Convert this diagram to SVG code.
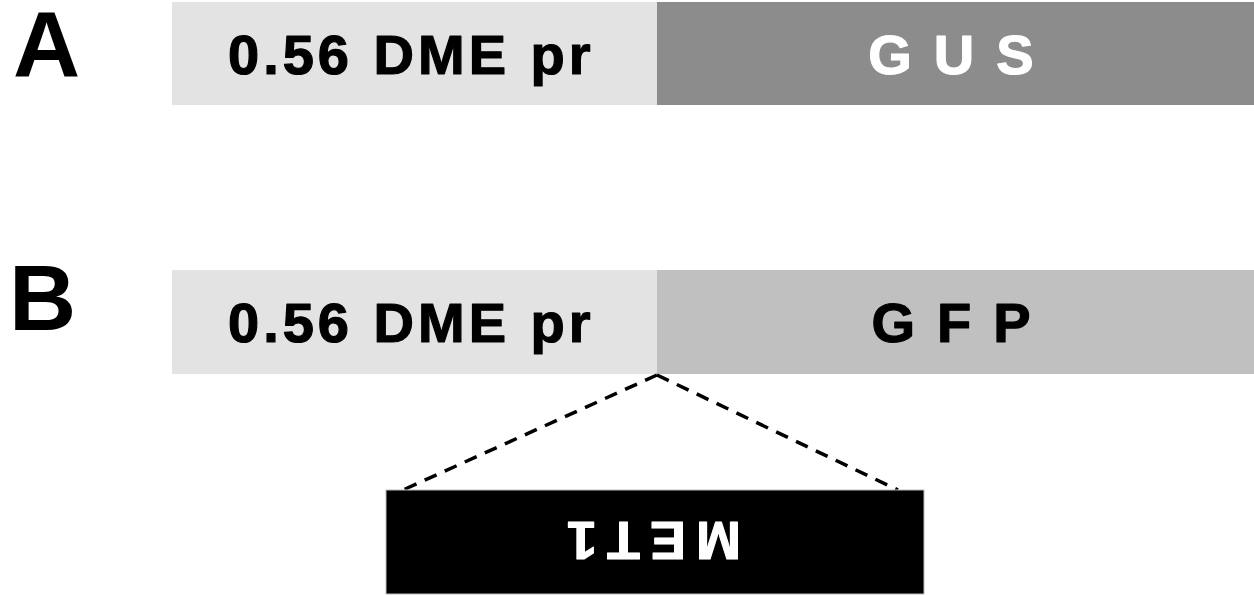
<svg xmlns="http://www.w3.org/2000/svg" width="1254" height="595" viewBox="0 0 1254 595">
<style>
.lbl{font-family:"Liberation Sans",Arial,sans-serif;font-weight:bold;font-size:56px;stroke-width:1.2px;stroke-linejoin:round}
.pr{letter-spacing:4px;word-spacing:1px}
.sp{letter-spacing:22px;text-anchor:middle}
.big{font-family:"Liberation Sans",Arial,sans-serif;font-weight:bold;font-size:93px}
</style>
<rect width="1254" height="595" fill="#fff"/>
<g id="labelA"><text class="big" x="13" y="76">A</text></g>
<g id="labelB"><text class="big" x="9" y="330">B</text></g>
<g id="promA"><rect x="172" y="2" width="485" height="103" fill="#e3e3e3"/><text class="lbl pr" x="228" y="73.5" fill="#000" stroke="#000">0.56 DME pr</text></g>
<g id="gus"><rect x="657" y="2" width="597" height="103" fill="#8c8c8c"/><text class="lbl sp" x="962" y="73.5" fill="#fff" stroke="#fff">GUS</text></g>
<g id="promB"><rect x="172" y="270" width="485" height="104" fill="#e3e3e3"/><text class="lbl pr" x="228" y="341.5" fill="#000" stroke="#000">0.56 DME pr</text></g>
<g id="gfp"><rect x="657" y="270" width="597" height="104" fill="#c0c0c0"/><text class="lbl sp" x="962" y="341.5" fill="#000" stroke="#000">GFP</text></g>
<g id="connectors" fill="none" stroke="#000" stroke-width="3.5" stroke-dasharray="13 9">
<line x1="657" y1="375" x2="403" y2="490"/>
<line x1="657" y1="375" x2="898" y2="490"/>
</g>
<g id="met1"><rect x="386" y="490" width="538" height="104" fill="#000" stroke="#bbb" stroke-width="1"/><text class="lbl" style="font-size:54px;letter-spacing:10px;text-anchor:middle" transform="translate(649,541) rotate(180)" x="0" y="19" fill="#fff" stroke="#fff">MET1</text></g>
</svg>
